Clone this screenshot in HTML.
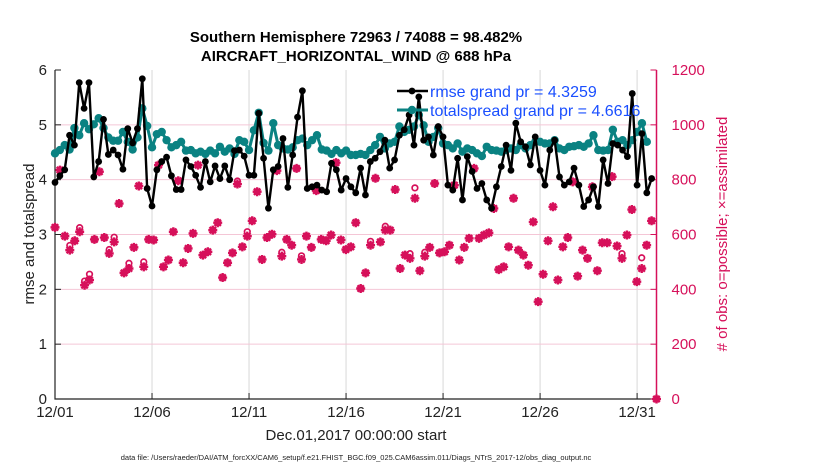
<!DOCTYPE html>
<html><head><meta charset="utf-8"><style>
body{margin:0;background:#fff;}
svg{display:block;font-family:"Liberation Sans",sans-serif;}
</style></head><body>
<svg id="chart" width="830" height="470"></svg>
<script>
const rmse=[3.95,4.07,4.18,4.81,4.63,5.77,5.3,5.77,4.05,4.33,5.1,4.46,4.54,4.45,4.19,4.93,4.67,4.93,5.84,3.84,3.52,4.18,4.33,4.41,4.07,3.82,3.82,4.36,4.24,4.08,3.86,4.33,3.96,4.25,4.02,4.25,4.0,4.53,4.54,4.43,4.08,4.08,5.21,4.39,3.48,4.18,4.24,4.75,3.86,4.45,5.14,5.62,3.84,3.87,3.9,3.81,3.78,4.3,4.18,3.81,4.02,3.87,3.76,
4.21,3.72,4.33,4.39,4.51,4.72,4.21,4.36,4.81,4.91,5.18,4.63,5.51,4.72,4.78,4.45,4.97,4.78,3.9,3.81,4.39,3.63,4.42,4.15,3.84,3.93,3.63,3.48,3.87,4.24,4.63,4.17,5.03,4.69,4.6,4.27,4.78,4.17,3.9,4.54,4.72,4.05,3.9,3.96,4.21,3.9,3.51,3.63,3.87,3.51,4.36,3.93,4.66,4.63,4.54,4.42,5.57,3.9,4.84,3.76,4.02];
const spread=[4.48,4.54,4.63,4.55,4.94,4.81,5.03,4.92,5.01,5.12,4.94,4.77,4.71,4.71,4.87,4.69,4.55,4.77,5.3,4.98,4.59,4.83,4.87,4.72,4.59,4.63,4.69,4.53,4.54,4.48,4.51,4.47,4.53,4.48,4.6,4.51,4.57,4.47,4.72,4.69,4.54,4.9,5.22,4.67,4.53,5.03,4.63,4.57,4.55,4.59,4.72,4.75,4.63,4.72,4.81,4.55,4.53,4.47,4.54,4.48,4.53,4.45,4.45,
4.47,4.45,4.54,4.63,4.78,4.57,4.66,4.69,4.97,4.87,4.91,4.97,5.18,4.99,4.69,4.78,4.94,4.66,4.63,4.57,4.66,4.51,4.57,4.54,4.48,4.43,4.6,4.54,4.53,4.51,4.54,4.57,4.54,4.63,4.57,4.63,4.69,4.69,4.66,4.66,4.72,4.57,4.54,4.6,4.61,4.63,4.6,4.66,4.81,4.54,4.53,4.54,4.91,4.69,4.72,4.63,4.72,4.87,5.03,4.69];
const obsAssim=[626,835,594,543,577,610,415,434,582,829,589,531,573,713,460,476,553,777,482,582,580,853,482,507,610,796,497,549,604,853,525,537,616,643,443,497,533,784,555,594,650,756,509,589,601,833,521,582,561,841,509,594,553,760,582,577,598,862,580,545,555,643,403,460,
561,805,573,616,616,764,476,525,513,732,468,521,553,786,533,537,561,780,507,553,586,841,586,598,606,695,472,482,555,732,543,525,488,646,355,455,577,701,434,555,589,792,448,543,513,774,468,570,570,811,558,513,598,691,428,476,561,650,0];
const obsPoss=[626,835,594,560,577,625,430,455,582,829,589,545,590,713,460,495,553,777,500,582,580,853,482,507,610,796,497,549,604,853,525,537,616,643,443,497,533,795,555,610,650,756,509,589,601,833,535,582,561,841,522,594,553,760,582,577,598,862,580,545,555,643,403,460,
575,805,573,630,616,764,476,525,530,770,468,535,553,786,533,537,561,780,507,553,586,841,586,598,606,695,472,482,555,732,543,525,488,646,355,455,577,701,434,555,589,792,448,543,513,774,468,570,570,811,558,530,598,691,428,515,561,650,0];
const xTickDays=[0,5,10,15,20,25,30];
const xTickLabels=["12/01","12/06","12/11","12/16","12/21","12/26","12/31"];
const yTicks=[0,1,2,3,4,5,6];
const y2Ticks=[0,200,400,600,800,1000,1200];
const stepDays=0.25;

const svg=document.getElementById('chart');
const NS='http://www.w3.org/2000/svg';
const L=55,R=656.5,T=70,B=399;
const xs=d=>L+d*(R-L)/31;
const ys=v=>B-v*(B-T)/6;
const y2s=v=>B-v*(B-T)/1200;
function mk(tag,at,parent){const e=document.createElementNS(NS,tag);for(const k in at)e.setAttribute(k,at[k]);(parent||svg).appendChild(e);return e;}
function txt(s,at){const e=mk('text',at);e.textContent=s;return e;}

xTickDays.forEach(d=>{if(d>0){const g=mk('line',{x1:xs(d),x2:xs(d),y1:T,y2:B,stroke:'#d8d8d8','stroke-width':1});

}});
yTicks.forEach(v=>{if(v>0&&v<6){const g=mk('line',{x1:L,x2:R,y1:ys(v),y2:ys(v),stroke:'#f4c6d6','stroke-width':1});

}});

const ax=mk('path',{d:`M${L},${T}V${B}H${R}`,fill:'none',stroke:'#222','stroke-width':1.2});


const ax2=mk('line',{x1:R,x2:R,y1:T,y2:B,stroke:'#d6105a','stroke-width':1.5});



xTickDays.forEach((d,i)=>{
 mk('line',{x1:xs(d),x2:xs(d),y1:B,y2:B-6,stroke:'#222'});
 const t=txt(xTickLabels[i],{x:xs(d),y:B+18,'text-anchor':'middle','font-size':15,fill:'#222'});
 
 
});
yTicks.forEach(v=>{
 mk('line',{x1:L,x2:L+6,y1:ys(v),y2:ys(v),stroke:'#222'});
 const t=txt(String(v),{x:L-8,y:ys(v)+5,'text-anchor':'end','font-size':15,fill:'#222'});
 
 
});
y2Ticks.forEach(v=>{
 mk('line',{x1:R,x2:R-6,y1:y2s(v),y2:y2s(v),stroke:'#d6105a'});
 const t=txt(String(v),{x:R+15,y:y2s(v)+5,'font-size':15,fill:'#d6105a'});
 
 
});

const og=mk('g',{stroke:'#d6105a',fill:'none'});


obsPoss.forEach((v,i)=>{
 const n=obsPoss.length-1;const x=xs(i*31/n),y=y2s(v);
 const c=mk('circle',{cx:x,cy:y,r:2.8,'stroke-width':1.7,fill:'#fff'},og);
 
 
});
obsAssim.forEach((v,i)=>{
 const n=obsAssim.length-1;const x=xs(i*31/n),y=y2s(v);
 const p=mk('path',{d:`M${x-4.5},${y}H${x+4.5}M${x},${y-4.5}V${y+4.5}M${x-3.2},${y-3.2}L${x+3.2},${y+3.2}M${x-3.2},${y+3.2}L${x+3.2},${y-3.2}`,'stroke-width':2.4},og);
 
 
});

function series(arr,color,r,w,name){
 const g=mk('g',{});
 
 
 mk('polyline',{points:arr.map((v,i)=>xs(i*stepDays)+','+ys(v)).join(' '),fill:'none',stroke:color,'stroke-width':w,'stroke-linejoin':'round'},g);
 arr.forEach((v,i)=>{const c=mk('circle',{cx:xs(i*stepDays),cy:ys(v),r:r,fill:color},g);
 
 });
}
series(spread,'#0a8282',4.2,3,'totalspread-series');
series(rmse,'#000',3.4,2.4,'rmse-series');

const lg=mk('g',{});


mk('line',{x1:397,x2:428,y1:91,y2:91,stroke:'#000','stroke-width':2.4},lg);
mk('circle',{cx:412,cy:91,r:3.4,fill:'#000'},lg);
mk('line',{x1:397,x2:428,y1:110,y2:110,stroke:'#0a8282','stroke-width':3},lg);
mk('circle',{cx:412,cy:110,r:4.2,fill:'#0a8282'},lg);
const l1=txt('rmse grand pr = 4.3259',{x:430,y:97,'font-size':16,fill:'#1a4fff'});


const l2=txt('totalspread grand pr = 4.6616',{x:430,y:116,'font-size':16,fill:'#1a4fff'});



const t1=txt('Southern Hemisphere 72963 / 74088 = 98.482%',{x:356,y:42,'text-anchor':'middle','font-size':15,'font-weight':'bold',fill:'#000'});


const t2=txt('AIRCRAFT_HORIZONTAL_WIND @ 688 hPa',{x:356,y:61,'text-anchor':'middle','font-size':15,'font-weight':'bold',fill:'#000'});


const yl=txt('rmse and totalspread',{x:0,y:0,'text-anchor':'middle','font-size':15,fill:'#222',transform:'translate(34,234) rotate(-90)'});


const yl2=txt('# of obs: o=possible; \u00d7=assimilated',{x:0,y:0,'text-anchor':'middle','font-size':15,fill:'#d6105a',transform:'translate(727,234) rotate(-90)'});


const xl=txt('Dec.01,2017 00:00:00 start',{x:356,y:440,'text-anchor':'middle','font-size':15,fill:'#222'});


const ft=txt('data file: /Users/raeder/DAI/ATM_forcXX/CAM6_setup/f.e21.FHIST_BGC.f09_025.CAM6assim.011/Diags_NTrS_2017-12/obs_diag_output.nc',{x:356,y:460,'text-anchor':'middle','font-size':7.5,fill:'#222'});


</script>
</body></html>
